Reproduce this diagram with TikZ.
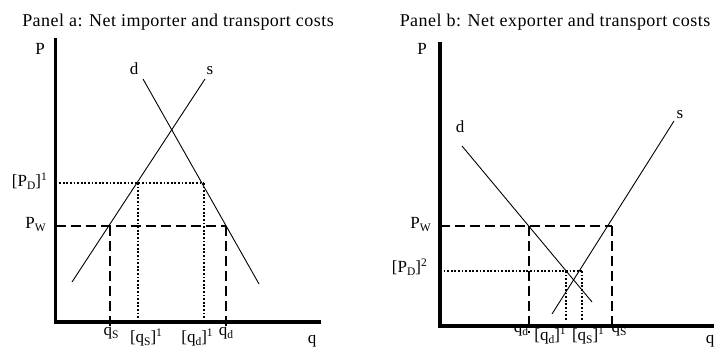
\documentclass[tikz,border=0pt]{standalone}
\usepackage{fontspec}
\setmainfont{Liberation Serif}
\newcommand{\sbs}[1]{\raisebox{-3.5pt}{\fontsize{11.5}{12}\selectfont #1}}
\newcommand{\sps}[1]{\raisebox{6pt}{\fontsize{11.5}{12}\selectfont #1}}
\begin{document}
\begin{tikzpicture}[x=1pt,y=-1pt,
  lbl/.style={inner sep=0pt, font=\fontsize{17}{20}\selectfont, anchor=base},
  lbll/.style={lbl, anchor=base east},
  ttl/.style={lbl, font=\fontsize{18}{21}\selectfont\addfontfeature{LetterSpace=2.6}},
  axis/.style={line width=3.5pt},
  curve/.style={line width=0.9pt},
  dsh/.style={line width=1.8pt, dash pattern=on 10pt off 5pt},
  dot/.style={line width=1.8pt, dash pattern=on 1.8pt off 1.8pt}]
\useasboundingbox (0,0) rectangle (714,350);

% ---------------- Panel a ----------------
\node[ttl] (ta) at (178,27) {Panel a: Net importer and transport costs};
\coordinate (aO) at (55.5,322);
\coordinate (aTop) at (55.5,38);
\coordinate (aRight) at (321,322);
\coordinate (ad1) at (143,79);
\coordinate (ad2) at (259,284);
\coordinate (as1) at (205,79);
\coordinate (as2) at (72,282);

% dotted
\draw[dot] (55.5,183) -- (204,183);
\draw[dot] (138,183) -- (138,322);
\draw[dot] (204,183) -- (204,322);
% dashed
\draw[dsh] (55.5,226) -- (226,226);
\draw[dsh] (110,226) -- (110,329);
\draw[dsh] (226,226) -- (226,329);
% curves
\draw[curve] (ad1) -- (ad2);
\draw[curve] (as1) -- (as2);
% axes
\draw[axis] (aTop) -- (aO) -- (aRight);

\node[lbl] (aP) at (40,55) {P};
\node[lbl] (adl) at (134,75) {d};
\node[lbl] (asl) at (210,75) {s};
\node[lbll] (aPD) at (47,186) {[P\sbs{D}]\sps{1}};
\node[lbll] (aPW) at (46,228) {P\sbs{W}};
\node[lbl] (aqs) at (111,335) {q\sbs{S}};
\node[lbl] (aqs1) at (146,342) {[q\sbs{S}]\sps{1}};
\node[lbl] (aqd1) at (197,342) {[q\sbs{d}]\sps{1}};
\node[lbl] (aqd) at (226,335) {q\sbs{d}};
\node[lbl] (aq) at (312,343) {q};

% ---------------- Panel b ----------------
\node[ttl] (tb) at (555,27) {Panel b: Net exporter and transport costs};
\coordinate (bO) at (440,326);
\coordinate (bTop) at (440,42);
\coordinate (bRight) at (714,326);
\coordinate (bd1) at (462,146);
\coordinate (bd2) at (592,302);
\coordinate (bs1) at (674,121);
\coordinate (bs2) at (552,314);

% dashed
\draw[dsh] (440,226) -- (612,226);
\draw[dsh] (529,226) -- (529,333);
\draw[dsh] (612,226) -- (612,326);
% dotted
\draw[dot] (440,271) -- (582,271);
\draw[dot] (566,271) -- (566,321);
\draw[dot] (582,271) -- (582,321);
% curves
\draw[curve] (bd1) -- (bd2);
\draw[curve] (bs1) -- (bs2);
% axes
\draw[axis] (bTop) -- (bO) -- (bRight);

\node[lbl] (bP) at (422,55) {P};
\node[lbl] (bdl) at (460,132) {d};
\node[lbl] (bsl) at (680,118) {s};
\node[lbll] (bPW) at (431,228) {P\sbs{W}};
\node[lbll] (bPD) at (427,272) {[P\sbs{D}]\sps{2}};
\node[lbl] (bqd) at (521,332) {q\sbs{d}};
\node[lbl] (bqd1) at (550,340) {[q\sbs{d}]\sps{1}};
\node[lbl] (bqs1) at (588,340) {[q\sbs{S}]\sps{1}};
\node[lbl] (bqs) at (619,332) {q\sbs{S}};
\node[lbl] (bq) at (710,343) {q};
\end{tikzpicture}
\end{document}
